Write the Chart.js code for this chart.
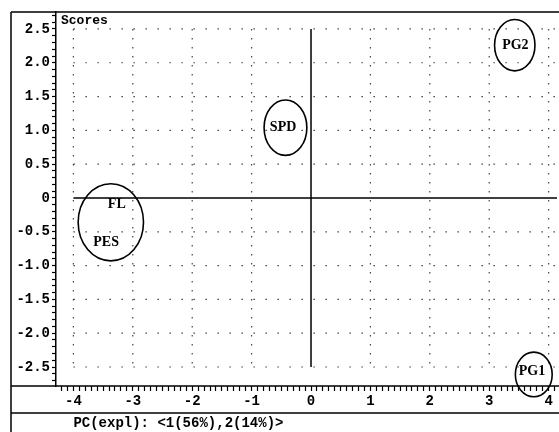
<!DOCTYPE html>
<html>
<head>
<meta charset="UTF-8">
<title>Scores</title>
<script src="https://cdn.jsdelivr.net/npm/chart.js"></script>
<style>
    body { margin: 0; background: #fff; }
    #wrap { width: 559px; height: 432px; }
</style>
</head>
<body>
<div id="wrap"><canvas id="scoresChart" width="559" height="432"></canvas></div>
<script>
    // objetos (scores)
    const labels = ['PG2', 'SPD', 'FL', 'PES', 'PG1'];
    const pc1 = [3.44, -0.47, -3.27, -3.45, 3.72];
    const pc2 = [2.25, 1.04, -0.09, -0.65, -2.57];

    // elipses de grupo (centro y semiejes, en unidades de los ejes)
    const ellX = [3.43, -0.43, -3.37, 3.75];
    const ellY = [2.26, 1.04, -0.36, -2.61];
    const ellRx = [0.34, 0.36, 0.55, 0.31];
    const ellRy = [0.38, 0.41, 0.57, 0.33];

    const xTickValues = [-4, -3, -2, -1, 0, 1, 2, 3, 4];
    const xTickLabels = ['-4', '-3', '-2', '-1', '0', '1', '2', '3', '4'];
    const yTickValues = [2.5, 2.0, 1.5, 1.0, 0.5, 0, -0.5, -1.0, -1.5, -2.0, -2.5];
    const yTickLabels = ['2.5', '2.0', '1.5', '1.0', '0.5', '0', '-0.5', '-1.0', '-1.5', '-2.0', '-2.5'];

    const title = 'Scores';
    const footer = 'PC(expl): <1(56%),2(14%)>';

    const monoFont = 'bold 14px "Liberation Mono", "DejaVu Sans Mono", monospace';

    function labelFor(values, names, v) {
        const i = values.findIndex(t => Math.abs(t - v) < 1e-6);
        return i >= 0 ? names[i] : '';
    }

    // marcas menores cada 0.1
    function tenths(scale) {
        const out = [];
        for (let i = Math.ceil(scale.min * 10); i <= Math.floor(scale.max * 10); i++) {
            out.push({ value: i / 10 });
        }
        scale.ticks = out;
    }

    const framePlugin = {
        id: 'frame',
        beforeDatasetsDraw(chart) {
            const { ctx, chartArea, scales: { x, y } } = chart;
            ctx.save();
            ctx.strokeStyle = '#444';
            ctx.lineWidth = 1.2;
            // rejilla punteada
            ctx.setLineDash([1.5, 10.5]);
            yTickValues.forEach(v => {
                if (v === 0) return;
                ctx.beginPath();
                ctx.moveTo(x.getPixelForValue(-4), y.getPixelForValue(v));
                ctx.lineTo(chartArea.right, y.getPixelForValue(v));
                ctx.stroke();
            });
            ctx.setLineDash([1.5, 7.5]);
            xTickValues.forEach(v => {
                if (v === 0) return;
                ctx.beginPath();
                ctx.moveTo(x.getPixelForValue(v), y.getPixelForValue(2.5));
                ctx.lineTo(x.getPixelForValue(v), y.getPixelForValue(-2.5));
                ctx.stroke();
            });
            ctx.setLineDash([]);
            // ejes en cero
            ctx.strokeStyle = '#000';
            ctx.lineWidth = 1.5;
            ctx.beginPath();
            ctx.moveTo(x.getPixelForValue(-4), y.getPixelForValue(0));
            ctx.lineTo(chartArea.right, y.getPixelForValue(0));
            ctx.moveTo(x.getPixelForValue(0), y.getPixelForValue(2.5));
            ctx.lineTo(x.getPixelForValue(0), y.getPixelForValue(-2.5));
            ctx.stroke();
            // elipses
            ctx.lineWidth = 1.6;
            ellX.forEach((cx, i) => {
                const px = x.getPixelForValue(cx);
                const py = y.getPixelForValue(ellY[i]);
                const rx = Math.abs(x.getPixelForValue(cx + ellRx[i]) - px);
                const ry = Math.abs(y.getPixelForValue(ellY[i] + ellRy[i]) - py);
                ctx.beginPath();
                ctx.ellipse(px, py, rx, ry, 0, 0, Math.PI * 2);
                ctx.stroke();
            });
            ctx.restore();
        },
        afterDraw(chart) {
            const { ctx, chartArea, scales: { x } } = chart;
            const W = chart.width, H = chart.height;
            ctx.save();
            ctx.strokeStyle = '#000';
            ctx.lineWidth = 1.5;
            ctx.beginPath();
            ctx.moveTo(11, chartArea.top); ctx.lineTo(W, chartArea.top);
            ctx.moveTo(11, chartArea.top); ctx.lineTo(11, H);
            ctx.moveTo(11, chartArea.bottom); ctx.lineTo(W, chartArea.bottom);
            ctx.moveTo(11, 413); ctx.lineTo(W, 413);
            ctx.stroke();
            ctx.fillStyle = '#000';
            ctx.font = 'bold 13px "Liberation Mono", "DejaVu Sans Mono", monospace';
            ctx.textBaseline = 'top';
            ctx.fillText(title, chartArea.left + 5, chartArea.top + 2);
            ctx.font = monoFont;
            ctx.textBaseline = 'middle';
            ctx.fillText(footer, x.getPixelForValue(-4), 423);
            // etiquetas de los objetos
            const meta = chart.getDatasetMeta(0);
            ctx.font = 'bold 14px "Liberation Serif", "DejaVu Serif", serif';
            ctx.textAlign = 'center';
            meta.data.forEach((pt, i) => {
                ctx.fillText(labels[i], pt.x, pt.y);
            });
            ctx.restore();
        }
    };

    new Chart(document.getElementById('scoresChart'), {
        type: 'scatter',
        data: {
            labels: labels,
            datasets: [{
                label: 'Scores',
                data: pc1.map((v, i) => ({ x: v, y: pc2[i] })),
                pointRadius: 0,
                pointHoverRadius: 0,
                showLine: false
            }]
        },
        options: {
            responsive: false,
            animation: false,
            events: [],
            layout: { padding: { left: 0, right: 2, top: 12, bottom: 0 } },
            plugins: {
                legend: { display: false },
                tooltip: { enabled: false }
            },
            scales: {
                x: {
                    type: 'linear',
                    min: -4.293,
                    max: 4.141,
                    afterFit(scale) { scale.height = 46; },
                    afterBuildTicks: tenths,
                    border: { display: false },
                    grid: { drawOnChartArea: false, tickLength: 5, tickColor: '#000', tickWidth: 1.2 },
                    ticks: {
                        autoSkip: false,
                        maxRotation: 0,
                        padding: 2,
                        color: '#000',
                        font: { family: '"Liberation Mono", "DejaVu Sans Mono", monospace', size: 14, weight: 'bold' },
                        callback: v => labelFor(xTickValues, xTickLabels, v)
                    }
                },
                y: {
                    type: 'linear',
                    min: -2.781,
                    max: 2.751,
                    afterFit(scale) { scale.width = 56; },
                    afterBuildTicks: tenths,
                    border: { display: true, color: '#000', width: 1.5 },
                    grid: { drawOnChartArea: false, tickLength: 4, tickColor: '#000', tickWidth: 1.2 },
                    ticks: {
                        autoSkip: false,
                        padding: 2,
                        color: '#000',
                        font: { family: '"Liberation Mono", "DejaVu Sans Mono", monospace', size: 14, weight: 'bold' },
                        callback: v => labelFor(yTickValues, yTickLabels, v)
                    }
                }
            }
        },
        plugins: [framePlugin]
    });
</script>
</body>
</html>
